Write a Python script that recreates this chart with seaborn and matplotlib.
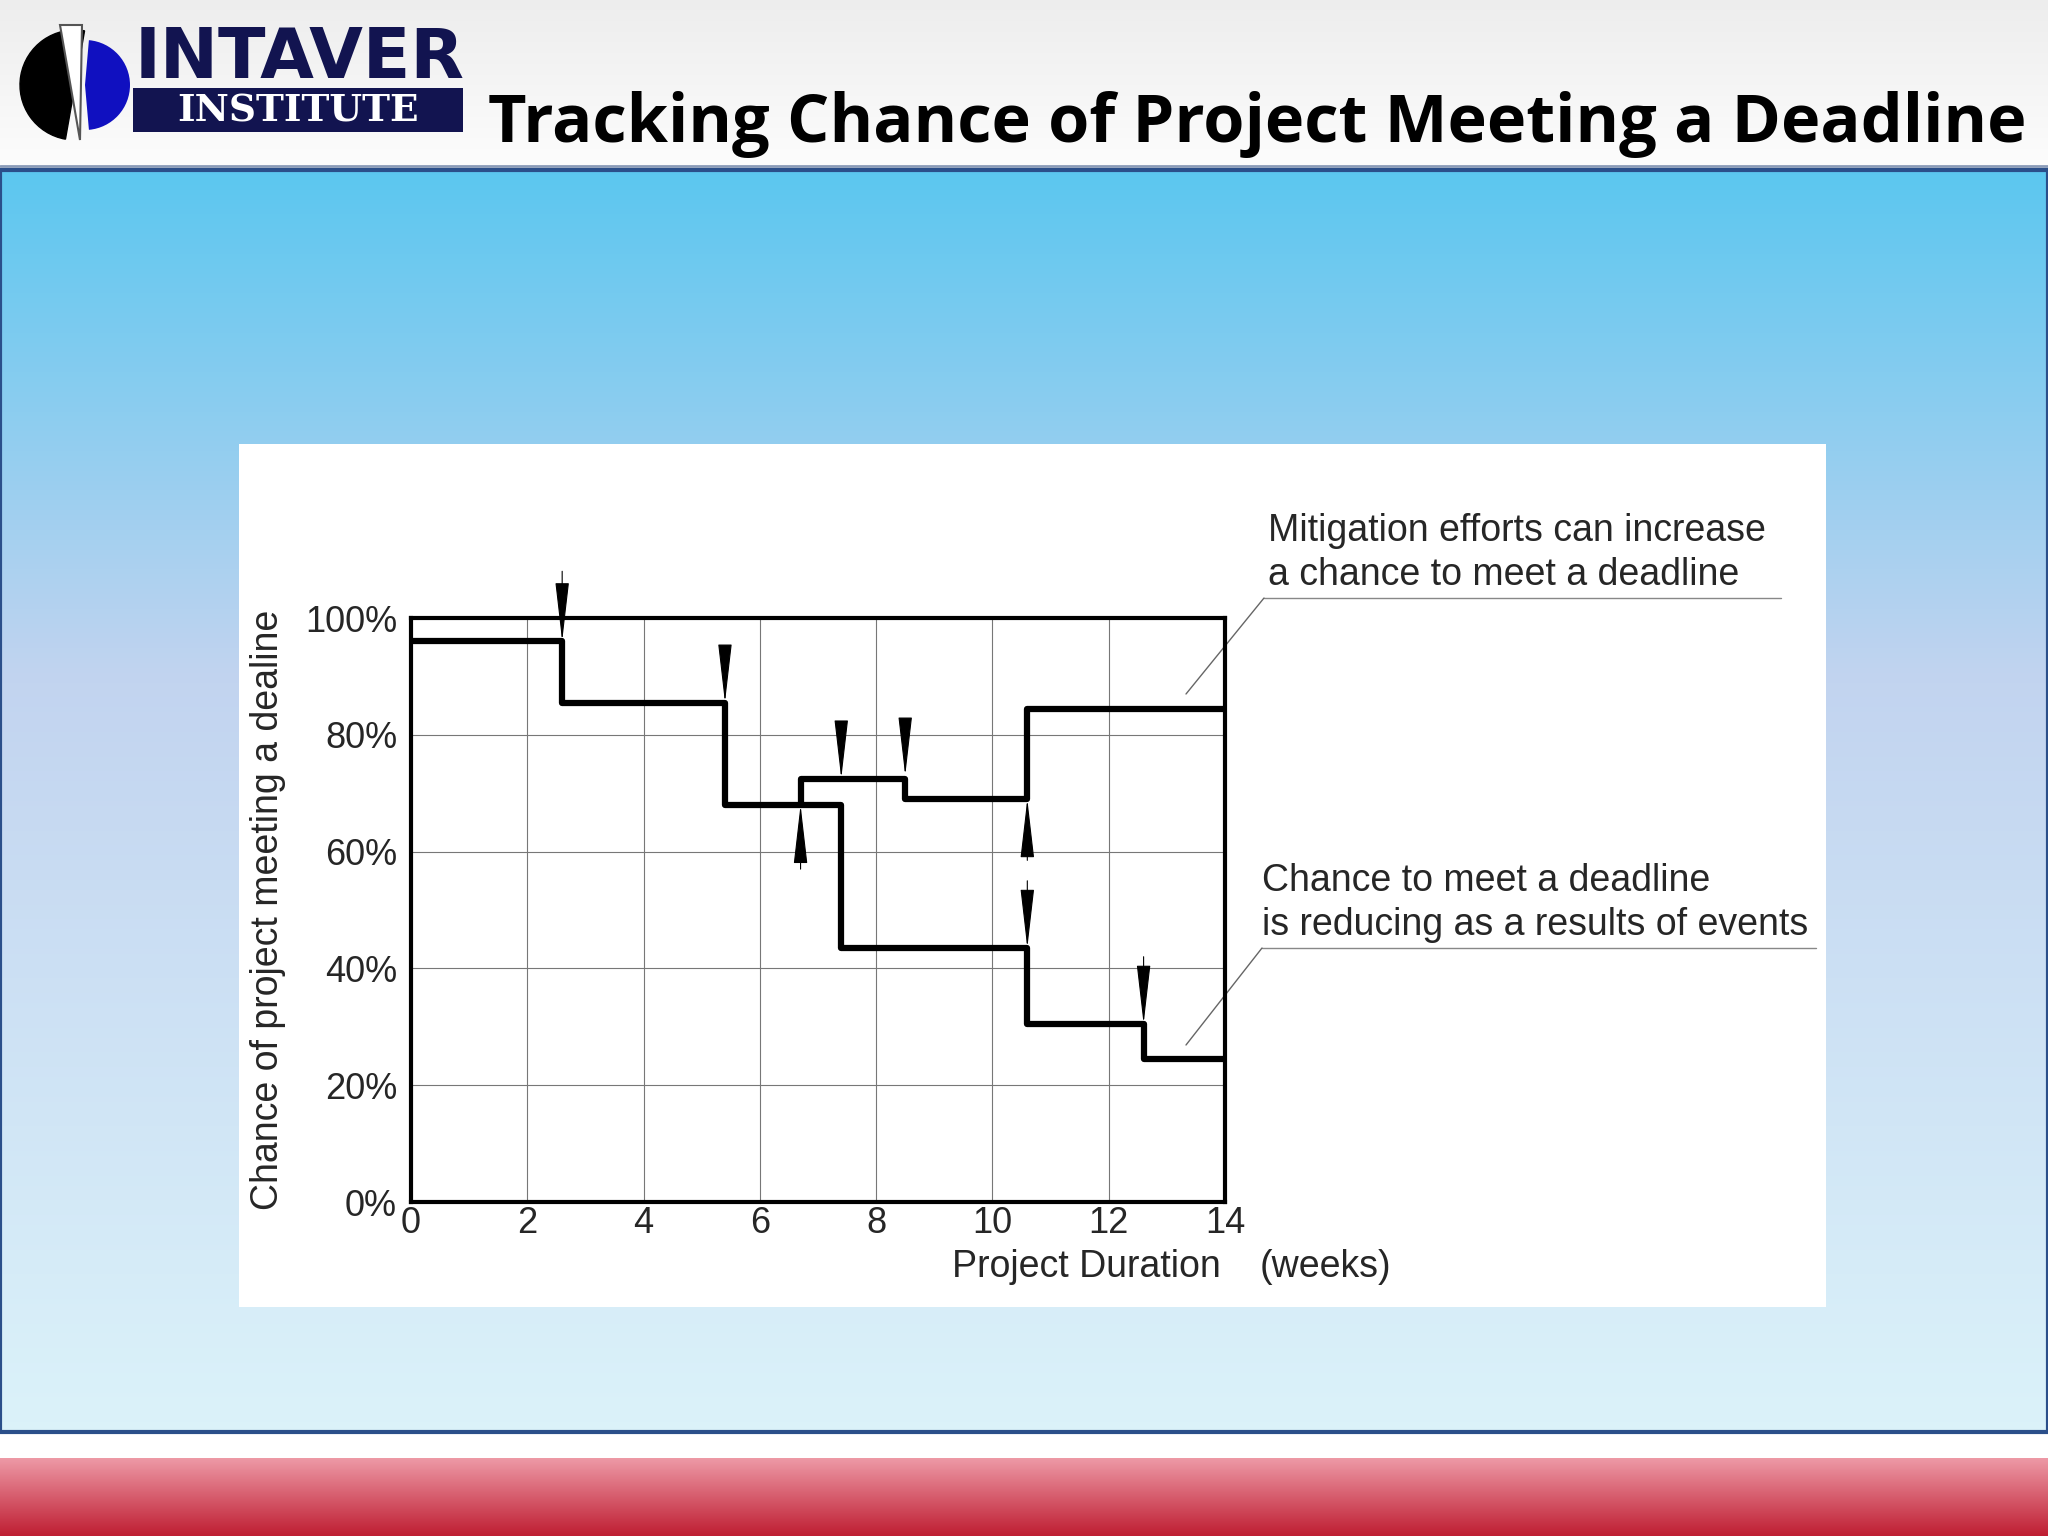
import matplotlib.pyplot as plt
import matplotlib.patches as mpatches
import seaborn as sns
import numpy as np
import pandas as pd

sns.set_style("white")
plt.rcParams['font.family'] = ['Liberation Sans', 'DejaVu Sans']

# event-driven chance of meeting the deadline (weeks, %)
base_weeks = [0, 2.6, 5.4, 7.4, 10.6, 12.6, 14]
base_pct = [96, 85.5, 68, 43.5, 30.5, 24.5, 24.5]
mitig_weeks = [6.7, 6.7, 8.5, 10.6, 14]
mitig_pct = [68, 72.5, 69, 84.5, 84.5]
# arrows: (week, start %, end %)
down_arrows = [(2.6, 108, 96), (5.4, 93, 85.5), (7.4, 78, 72.5), (8.5, 82, 73),
               (10.6, 55, 43.5), (12.6, 42, 30.5)]
up_arrows = [(6.7, 57, 68), (10.6, 58.5, 69)]
x_ticks = [0, 2, 4, 6, 8, 10, 12, 14]
y_ticks = [0, 20, 40, 60, 80, 100]

W, H = 2048, 1536
fig = plt.figure(figsize=(20.48, 15.36), dpi=100)

def fx(px):
    return px / W

def fy(py):
    return 1 - py / H

# background layers
bg = fig.add_axes([0, 0, 1, 1])
bg.set_xlim(0, W)
bg.set_ylim(H, 0)
bg.axis('off')
hdr = np.linspace(0, 1, 64)[:, None] * (np.array([0.99, 0.99, 0.99]) - np.array([0.93, 0.93, 0.93])) + np.array([0.93, 0.93, 0.93])
bg.imshow(hdr[:, None, :], extent=[0, W, 166, 0], aspect='auto', zorder=0)
top = np.array([0.36, 0.78, 0.94])
mid = np.array([0.76, 0.83, 0.94])
bot = np.array([0.86, 0.95, 0.98])
t = np.linspace(0, 1, 256)[:, None]
grad = np.where(t < 0.4, top + (mid - top) * (t / 0.4), mid + (bot - mid) * ((t - 0.4) / 0.6))
bg.imshow(grad[:, None, :], extent=[0, W, 1432, 170], aspect='auto', zorder=0)
bg.add_patch(mpatches.Rectangle((0, 170), W, 1262, fill=False, ec='#2b4f8a', lw=3, zorder=1))
bg.plot([0, W], [166, 166], color='#8a9bb8', lw=2)
red = np.linspace(0, 1, 64)[:, None] * (np.array([0.75, 0.12, 0.2]) - np.array([0.93, 0.6, 0.65])) + np.array([0.93, 0.6, 0.65])
bg.imshow(red[:, None, :], extent=[0, W, 1536, 1458], aspect='auto', zorder=0)
bg.add_patch(mpatches.Rectangle((239, 444), 1587, 863, fc='white', ec='none', zorder=1))

# logo
bg.add_patch(mpatches.Wedge((75, 85), 55, 100, 280, fc='black', ec='black', zorder=2))
bg.add_patch(mpatches.Wedge((85, 85), 45, -85, 85, fc='#1010c0', ec='none', zorder=2))
bg.add_patch(mpatches.Polygon([(60, 25), (82, 25), (80, 140)], fc='white', ec='#555555', lw=1.5, zorder=3))
bg.text(300, 58, 'INTAVER', ha='center', va='center', fontsize=50, fontweight='bold',
        color='#121450', family='DejaVu Sans', zorder=3)
bg.add_patch(mpatches.Rectangle((133, 88), 330, 44, fc='#121450', ec='none', zorder=2))
bg.text(298, 111, 'INSTITUTE', ha='center', va='center', fontsize=27, fontweight='bold',
        color='white', family='DejaVu Serif', zorder=3)
bg.text(2027, 124, 'Tracking Chance of Project Meeting a Deadline', ha='right', va='center',
        fontsize=48, fontweight='bold', family='Open Sans', color='black', zorder=3)

# annotations on the slide
bg.text(952, 1267, 'Project Duration', fontsize=27, va='center', zorder=3)
bg.text(1260, 1267, '(weeks)', fontsize=27, va='center', zorder=3)
bg.text(1268, 531, 'Mitigation efforts can increase', fontsize=27, va='center', zorder=3)
bg.text(1268, 575, 'a chance to meet a deadline', fontsize=27, va='center', zorder=3)
bg.plot([1264, 1781], [598, 598], color='#888888', lw=1, zorder=3)
bg.plot([1186, 1264], [694, 598], color='#666666', lw=1, zorder=3)
bg.text(1262, 881, 'Chance to meet a deadline', fontsize=27, va='center', zorder=3)
bg.text(1262, 925, 'is reducing as a results of events', fontsize=27, va='center', zorder=3)
bg.plot([1262, 1816], [948, 948], color='#888888', lw=1, zorder=3)
bg.plot([1186, 1262], [1045, 948], color='#666666', lw=1, zorder=3)

# chart
ax = fig.add_axes([fx(411), fy(1202), fx(1225) - fx(411), fy(618) - fy(1202)])
ax.set_facecolor('none')
sns.lineplot(x=base_weeks, y=base_pct, drawstyle='steps-post', color='black', lw=4.5, ax=ax)
sns.lineplot(x=mitig_weeks, y=mitig_pct, drawstyle='steps-post', color='black', lw=4.5, ax=ax,
             sort=False, estimator=None)
for xw, y0, y1 in down_arrows + up_arrows:
    ax.annotate('', xy=(xw, y1), xytext=(xw, y0), annotation_clip=False,
                arrowprops=dict(arrowstyle='-|>,head_length=1.9,head_width=0.22', color='black',
                                lw=0.8, mutation_scale=20, shrinkA=0, shrinkB=0))
ax.set_xlim(0, 14)
ax.set_ylim(0, 100)
ax.set_xticks(x_ticks)
ax.set_yticks(y_ticks)
ax.set_yticklabels([f'{v}%' for v in y_ticks])
ax.grid(True, color='#777777', lw=0.8)
ax.tick_params(labelsize=26, length=0, pad=10)
ax.tick_params(axis='x', pad=3)
for s in ax.spines.values():
    s.set_visible(True)
    s.set_color('black')
    s.set_linewidth(3)
ax.set_ylabel('Chance of project meeting a dealine', fontsize=27, labelpad=14)
ax.set_xlabel('')

fig.savefig('out.png', dpi=100)
